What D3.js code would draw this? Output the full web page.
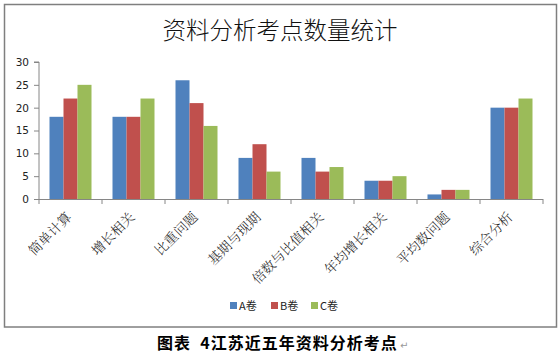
<!DOCTYPE html>
<html><head><meta charset="utf-8">
<script src="https://cdn.jsdelivr.net/npm/d3@7"></script>
<style>html,body{margin:0;padding:0;background:#fff;}</style>
</head><body>
<svg id="c" width="560" height="355"></svg>
<script>
const categories = ["简单计算","增长相关","比重问题","基期与现期","倍数与比值相关","年均增长相关","平均数问题","综合分析"];
const seriesNames = ["A卷","B卷","C卷"];
const seriesA = [18,18,26,9,9,4,1,20];
const seriesB = [22,18,21,12,6,4,2,20];
const seriesC = [25,22,16,6,7,5,2,22];
const colors = ["#4f81bd","#c0504d","#9bbb59"];
const yTicks = [0,5,10,15,20,25,30];
const titleText = "资料分析考点数量统计";
const captionText = "图表  4江苏近五年资料分析考点";

(function(){
const svg = d3.select("#c");
const cjk = "'Noto Sans CJK SC','Noto Sans',sans-serif";
svg.append("rect").attr("x",4.5).attr("y",4.5).attr("width",552).attr("height",322.5)
  .attr("fill","#fff").attr("stroke","#7f7f7f").attr("stroke-width",1.5);

svg.append("text").attr("x",280).attr("y",39).attr("text-anchor","middle")
  .attr("font-family",cjk).attr("font-size",23.5).attr("font-weight",300).attr("fill","#111").text(titleText);

const pl=39, pr=543, pt=62, pb=199;
const x = d3.scaleBand().domain(categories).range([pl,pr]).paddingInner(1/3).paddingOuter(1/6);
const xs = d3.scaleBand().domain(seriesNames).range([0,x.bandwidth()]);
const y = d3.scaleLinear().domain([0,30]).range([pb,pt]);
const data = [seriesA,seriesB,seriesC];

const g = svg.append("g");
categories.forEach((c,i)=>{
  seriesNames.forEach((s,j)=>{
    g.append("rect").attr("x",x(c)+xs(s)).attr("width",xs.bandwidth())
      .attr("y",y(data[j][i])).attr("height",pb-y(data[j][i])).attr("fill",colors[j]);
  });
});

// y axis
const ya = svg.append("g").attr("transform",`translate(${pl},0)`)
  .call(d3.axisLeft(y).tickValues(yTicks).tickSize(5).tickPadding(5));
ya.select(".domain").attr("stroke","#868686").attr("d",`M-5,${pt}H0V${pb}`);
ya.selectAll(".tick line").attr("stroke","#868686");
ya.selectAll("text").attr("font-family","'DejaVu Sans',sans-serif").attr("font-size",10.5).attr("fill","#222");

// x axis
const xa = svg.append("g").attr("transform",`translate(0,${pb})`);
xa.append("line").attr("x1",pl).attr("x2",pr).attr("y1",0.5).attr("y2",0.5).attr("stroke","#868686");
const bounds = [pl, ...categories.map(c=>x(c)+x.bandwidth()+x.step()*x.paddingInner()/2)];
bounds.forEach(b=>xa.append("line").attr("x1",b).attr("x2",b).attr("y1",0).attr("y2",5).attr("stroke","#868686"));
categories.forEach(c=>{
  const cx = x(c)+x.bandwidth()/2;
  xa.append("text").attr("transform",`translate(${cx+2},${19}) rotate(-45)`)
    .attr("text-anchor","end").attr("font-family","'Noto Serif CJK SC','Noto Sans CJK SC',serif")
    .attr("font-size",13.5).attr("font-weight",300).attr("fill","#222").text(c);
});

// legend
const leg = svg.append("g");
const lx = [230,271,311];
seriesNames.forEach((s,j)=>{
  leg.append("rect").attr("x",lx[j]).attr("y",302).attr("width",7).attr("height",7).attr("fill",colors[j]);
  leg.append("text").attr("x",lx[j]+9).attr("y",309.5).attr("font-family",cjk).attr("font-size",11).attr("fill","#222").text(s);
});

// caption
svg.append("text").attr("x",157).attr("y",349).attr("font-family",cjk).attr("font-weight",700)
  .attr("font-size",16).attr("letter-spacing",1).attr("fill","#000").attr("xml:space","preserve").text(captionText);
svg.append("text").attr("x",400).attr("y",349).attr("font-family","'DejaVu Sans',sans-serif")
  .attr("font-size",10).attr("fill","#999").text("↵");
})();
</script>
</body></html>
